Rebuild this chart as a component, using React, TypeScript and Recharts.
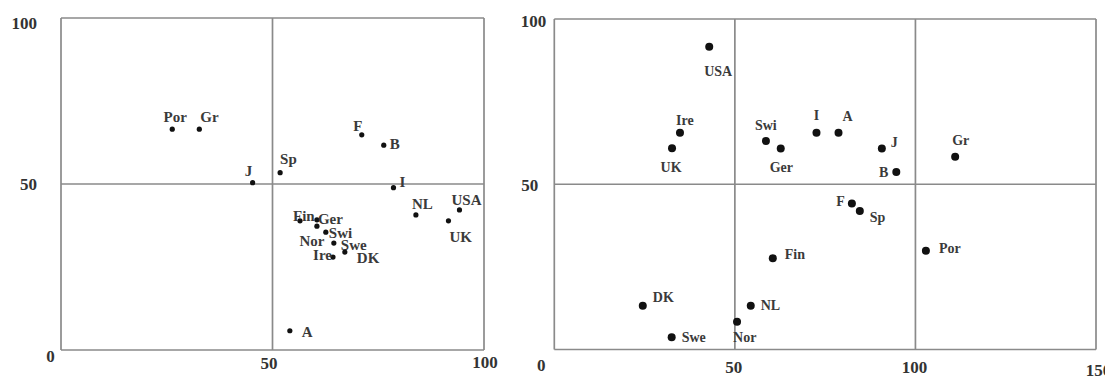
import { ScatterChart, Scatter, XAxis, YAxis, ReferenceLine } from "recharts";

// left panel: country positions (0-100 both axes)
const leftNames = ["Por", "Gr", "J", "Sp", "F", "B", "I", "NL", "USA", "UK", "Fin", "Ger", "Nor", "Swi", "Swe", "DK", "Ire", "A"];
const leftX = [26.3, 32.7, 45.3, 51.8, 71.1, 76.3, 78.6, 83.9, 94.2, 91.6, 56.5, 60.5, 60.5, 62.6, 64.5, 67.1, 64.3, 54.1];
const leftY = [66.5, 66.5, 50.4, 53.4, 64.8, 61.7, 48.9, 40.7, 42.2, 38.9, 38.9, 39.2, 37.3, 35.5, 32.2, 29.5, 28.0, 5.8];

// right panel: x runs 0-150
const rightNames = ["USA", "Ire", "UK", "Swi", "Ger", "I", "A", "J", "B", "Gr", "F", "Sp", "Por", "Fin", "DK", "NL", "Nor", "Swe"];
const rightX = [42.9, 34.8, 32.6, 58.6, 62.7, 72.6, 78.7, 90.7, 94.7, 111.0, 82.4, 84.6, 102.9, 60.5, 24.5, 54.4, 50.6, 32.5];
const rightY = [91.6, 65.6, 60.9, 63.1, 60.8, 65.6, 65.6, 60.8, 53.7, 58.3, 44.2, 41.9, 29.9, 27.6, 13.2, 13.2, 8.4, 3.7];

const leftXTicks = [0, 50, 100];
const rightXTicks = [0, 50, 100, 150];
const yTicks = [0, 50, 100];

type Anchor = "start" | "middle" | "end";
type Off = [number, number, Anchor];

// where each label sits relative to its dot
const leftLabelPos: Record<string, Off> = {
  Por: [3, -7, "middle"], Gr: [1, -7, "start"], J: [-4, -7, "middle"], Sp: [0, -9, "start"],
  F: [-4, -4, "middle"], B: [6, 4, "start"], I: [6, -1, "start"], NL: [-4, -6, "start"],
  USA: [-8, -5, "start"], UK: [1, 21, "start"], Fin: [-7, 0, "start"], Ger: [1, 4, "start"],
  Nor: [-5, 20, "middle"], Swi: [3, 6, "start"], Swe: [7, 7, "start"], DK: [12, 11, "start"],
  Ire: [-1, 3, "end"], A: [12, 6, "start"],
};
const rightLabelPos: Record<string, Off> = {
  USA: [9, 29, "middle"], Ire: [-4, -8, "start"], UK: [-1, 24, "middle"], Swi: [-11, -11, "start"],
  Ger: [-11, 23, "start"], I: [0, -13, "middle"], A: [4, -12, "start"], J: [9, -2, "start"],
  B: [-8, 5, "end"], Gr: [-3, -12, "start"], F: [-7, 3, "end"], Sp: [10, 11, "start"],
  Por: [13, 2, "start"], Fin: [12, 1, "start"], DK: [10, -4, "start"], NL: [10, 4, "start"],
  Nor: [-4, 20, "start"], Swe: [10, 5, "start"],
};

// tick label nudges [dx, dy] from the axis point
const leftXTickPos: Record<number, [number, number]> = { 0: [-10.5, 12], 50: [-3.5, 19], 100: [1, 18] };
const leftYTickPos: Record<number, [number, number]> = { 50: [-24, 6], 100: [-24, 11] };
const rightXTickPos: Record<number, [number, number]> = { 0: [-13, 21], 50: [-1, 23], 100: [-1, 23], 150: [2.5, 26] };
const rightYTickPos: Record<number, [number, number]> = { 50: [-16, 7], 100: [-8, 8] };

const SERIF = "'Liberation Serif', 'Times New Roman', serif";
const LINE = "#8a8a8a";

function zip(names: string[], xs: number[], ys: number[]) {
  return names.map((name, i) => ({ name, x: xs[i], y: ys[i] }));
}

function makeTick(pos: Record<number, [number, number]>, anchor: Anchor, axis: "x" | "y", plotX: number, plotBottom: number) {
  return (props: any) => {
    const v = props.payload.value;
    const p = pos[v];
    if (!p) return <g />;
    // pin ticks to the plot edge, so axis sizing does not matter
    const x = axis === "y" ? plotX : props.x;
    const y = axis === "x" ? plotBottom : props.y;
    return (
      <text x={x + p[0]} y={y + p[1]} textAnchor={anchor}
        fontFamily={SERIF} fontWeight="bold" fontSize={17} fill="#333">
        {v}
      </text>
    );
  };
}

function makeShape(labels: Record<string, Off>, r: number, fs: number) {
  return (props: any) => {
    const { cx, cy, payload } = props;
    const o = labels[payload.name] || [6, 4, "start"];
    return (
      <g>
        <circle cx={cx} cy={cy} r={r} fill="#111" />
        <text x={cx + o[0]} y={cy + o[1]} textAnchor={o[2]} fontFamily={SERIF}
          fontWeight="bold" fontSize={fs} fill="#3a3a3a">
          {payload.name}
        </text>
      </g>
    );
  };
}

function Panel({ data, xMax, xTicks, xTickPos, yTickPos, labels, r, fs, width, left, top, right, bottom }: any) {
  const plotBottom = 376 - bottom;
  return (
    <ScatterChart width={width} height={376} margin={{ top, right, bottom: 0, left: 0 }}>
      <XAxis type="number" dataKey="x" domain={[0, xMax]} ticks={xTicks} interval={0}
        axisLine={false} tickLine={false} tickSize={0} tickMargin={0} height={bottom}
        tick={makeTick(xTickPos, "middle", "x", left, plotBottom)} allowDataOverflow />
      <YAxis type="number" dataKey="y" domain={[0, 100]} ticks={yTicks} interval={0}
        axisLine={false} tickLine={false} tickSize={0} tickMargin={0} width={left}
        tick={makeTick(yTickPos, "end", "y", left, plotBottom)} allowDataOverflow />
      {xTicks.map((v: number) => (
        <ReferenceLine key={"x" + v} x={v} stroke={LINE} strokeWidth={1.7} />
      ))}
      {yTicks.map((v) => (
        <ReferenceLine key={"y" + v} y={v} stroke={LINE} strokeWidth={1.7} />
      ))}
      <Scatter data={data} isAnimationActive={false} shape={makeShape(labels, r, fs)} />
    </ScatterChart>
  );
}

export default function App() {
  return (
    <div style={{ position: "absolute", left: 0, top: 0, width: 1105, height: 376, background: "#fff", overflow: "hidden" }}>
      <div style={{ position: "absolute", left: 0, top: 0 }}>
        <Panel data={zip(leftNames, leftX, leftY)} xMax={100} xTicks={leftXTicks}
          xTickPos={leftXTickPos} yTickPos={leftYTickPos} labels={leftLabelPos}
          r={2.6} fs={15} width={500} left={61} top={18} right={16} bottom={26} />
      </div>
      <div style={{ position: "absolute", left: 500, top: 0 }}>
        <Panel data={zip(rightNames, rightX, rightY)} xMax={150} xTicks={rightXTicks}
          xTickPos={rightXTickPos} yTickPos={rightYTickPos} labels={rightLabelPos}
          r={4} fs={14} width={615} left={54.3} top={19} right={19} bottom={26.5} />
      </div>
    </div>
  );
}
